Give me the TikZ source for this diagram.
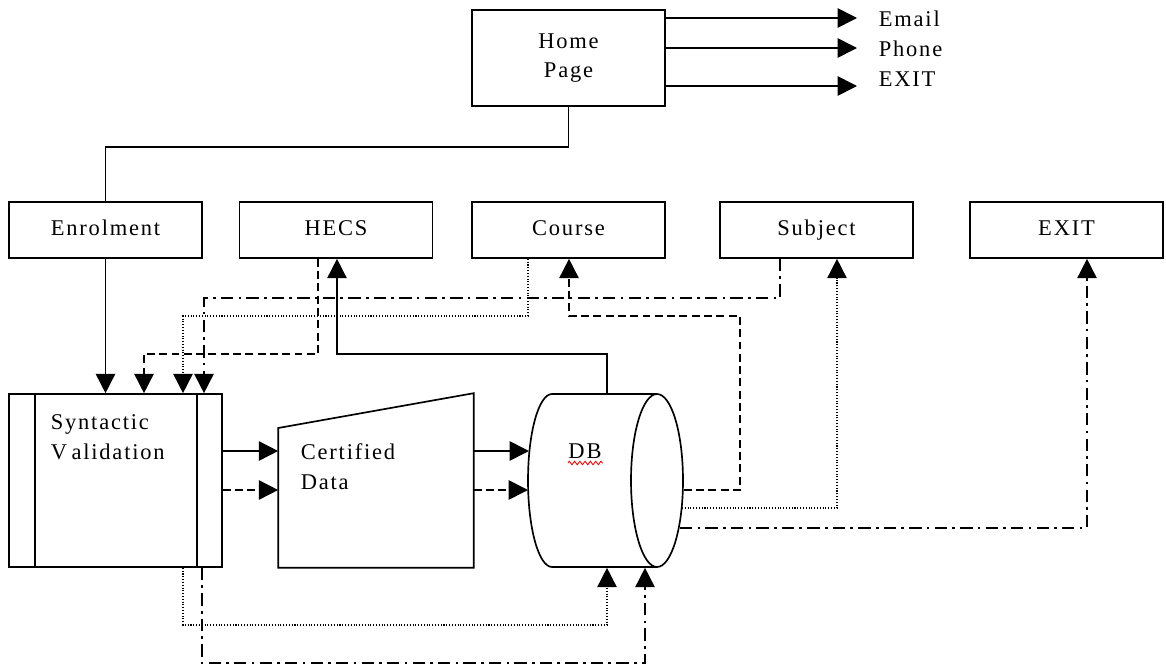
\documentclass[tikz,border=0pt]{standalone}
\usepackage{fontspec}
\setmainfont[LetterSpace=8]{Liberation Serif}
\usetikzlibrary{arrows.meta,decorations.pathmorphing}

\tikzset{
  box/.style={draw, minimum width=3.86cm, minimum height=1.12cm, inner sep=0pt},
  menu/.style={box, text height=9pt, text depth=2.5pt},
  blank/.style={minimum width=#1, minimum height=3.46cm, inner sep=0pt},
  txt/.style={inner sep=0pt, align=left},
  arr/.style={-{Triangle[length=11pt,width=11pt]}},
  dashedline/.style={dash pattern=on 4.5pt off 2.5pt},
  dotline/.style={dash pattern=on 0.6pt off 1pt},
  dashdotline/.style={dash pattern=on 7pt off 3pt on 1.5pt off 3pt},
}

\begin{document}
\begin{tikzpicture}[x=0.02cm, y=-0.02cm, line width=0.95pt, font=\fontsize{12.8}{17}\selectfont]
\useasboundingbox (0,0) rectangle (1166,666);

% home page and the links off it
\node[box, minimum height=1.92cm, align=center] (home) at (568.5,58) {Home\\Page};
\node[txt, anchor=west] (email) at (878,19) {Email};
\node[txt, anchor=west] (phone) at (878,49) {Phone};
\node[txt, anchor=west] (homeexit) at (878,79) {EXIT};
\coordinate (emailtip) at (857,18);
\coordinate (phonetip) at (857,48);
\coordinate (exittip) at (857,86);
\draw[arr] (home.east |- emailtip) -- (emailtip);
\draw[arr] (home.east |- phonetip) -- (phonetip);
\draw[arr] (home.east |- exittip) -- (exittip);

% menu row
\node[menu] (enrol) at (105.5,230) {Enrolment};
\node[menu] (hecs) at (336,230) {HECS};
\node[menu] (course) at (568.5,230) {Course};
\node[menu] (subject) at (816.5,230) {Subject};
\node[menu] (exitbox) at (1066.5,230) {EXIT};

\draw (home.south) -- ++(0,40) -| (enrol.north);

% syntactic validation
\node[draw, blank=4.26cm] (sv) at (115.5,480.5) {};
\draw ([xshift=0.54cm]sv.north west) -- ([xshift=0.54cm]sv.south west);
\draw ([xshift=-0.52cm]sv.north east) -- ([xshift=-0.52cm]sv.south east);
\node[txt, anchor=west] (svlabel) at (50,437) {Syntactic\\V\hspace{0.2em}alidation};

% certified data
\node[blank=3.88cm] (cd) at (376,480.5) {};
\draw (cd.south west) -- (cd.west |- 0,428) -- (cd.north east) -- (cd.south east) -- cycle;
\node[txt, anchor=west] (cdlabel) at (300,467) {Certified\\Data};

% database
\node[blank=3.1cm] (db) at (605.5,480.5) {};
\draw (552,394) -- (657,394);
\draw (552,567) -- (657,567);
\draw (552,394) arc[start angle=90, end angle=270, x radius=0.48cm, y radius=1.73cm];
\draw (657,480.5) ellipse[x radius=0.52cm, y radius=1.73cm];
\node[txt] (dblabel) at (585,451) {DB};
\draw[red, line width=0.5pt, decorate, decoration={zigzag, segment length=3pt, amplitude=1pt}]
  (568,463) -- (603,463);

% flows into validation
\draw[arr] (enrol.south) -- (sv.north -| enrol.south);
\draw[arr, dashedline] (hecs.south -| 318,0) -- (318,354) -| (sv.north -| 144,0);
\draw[arr, dotline] (course.south -| 528,0) -- (528,316) -| (sv.north -| 183,0);
\draw[arr, dashdotline] (subject.south -| 780,0) -- (780,298) -| (sv.north -| 204,0);

% validation -> certified data -> db
\draw[arr] (sv.east |- 0,451) -- (cd.west |- 0,451);
\draw[arr, dashedline] (sv.east |- 0,490) -- (cd.west |- 0,490);
\draw[arr] (cd.east |- 0,451) -- (529,451);
\draw[arr, dashedline] (cd.east |- 0,490) -- (528,490);

% db back up to the menu
\draw[arr] (db.north -| 607,0) -- (607,354) -| (hecs.south -| 337,0);
\draw[arr, dashedline] (db.east |- 0,490) -| (740,316) -| (course.south -| 569,0);
\draw[arr, dotline] (682,508) -| (subject.south -| 837,0);
\draw[arr, dashdotline] (680,528) -| (exitbox.south -| 1087,0);

% validation straight to db
\draw[arr, dotline] (sv.south -| 183,0) -- (183,625) -| (db.south -| 607,0);
\draw[arr, dashdotline] (sv.south -| 202,0) -- (202,663) -| (db.south -| 645,0);
\end{tikzpicture}
\end{document}
